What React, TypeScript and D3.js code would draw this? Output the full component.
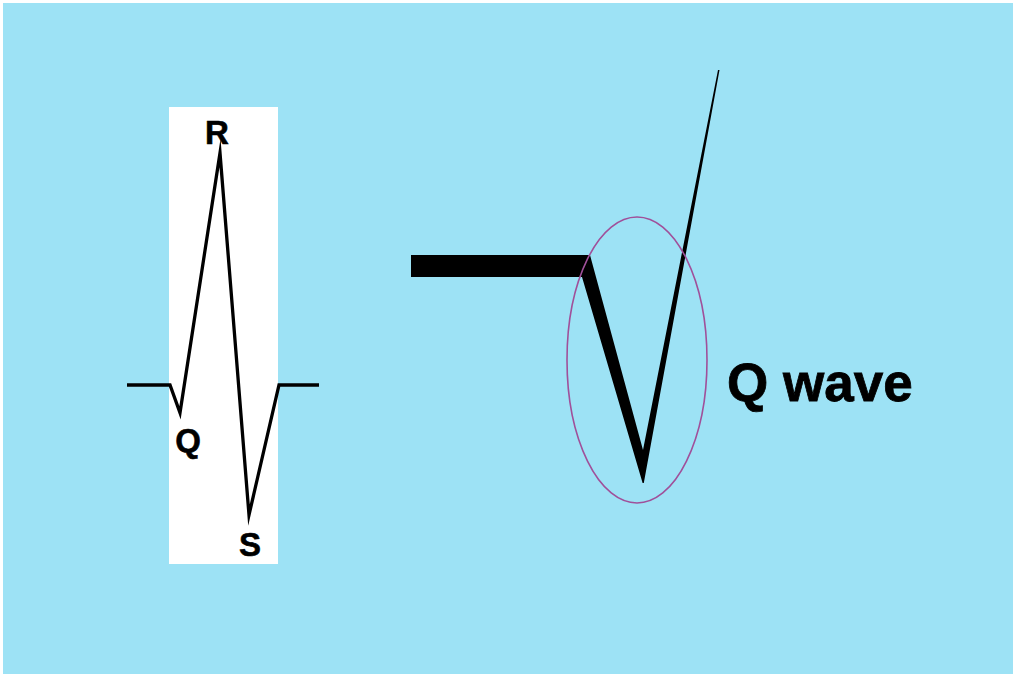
import React from "react";
import * as d3 from "d3";

// Left panel: schematic QRS complex (time units, amplitude relative to R peak)
const ecgTime = [0, 43, 53, 93, 122, 152, 192];
const ecgAmp = [0, 0, -0.12, 1, -0.56, 0, 0];
const waveLabels = ["R", "Q", "S"];
const labelTime = [90, 61, 123];
const labelAmp = [1.04, -0.29, -0.735];

// Right panel: enlarged Q wave outline (drawing units)
const qOutlineX = [411, 590, 643, 718, 719.5, 643.8, 642.6, 582, 411];
const qOutlineY = [255, 255, 450, 70, 70, 483, 483, 277, 277];
const circleCenter = [637, 360];
const circleRadii = [70, 143];
const qTitle = "Q wave";

const W = 1013;
const H = 674;

export default function App() {
  const x = d3.scaleLinear().domain([0, 192]).range([127, 319]);
  const y = d3.scaleLinear().domain([0, 1]).range([385, 153]);
  const ecgLine = d3
    .line<number>()
    .x((_, i) => x(ecgTime[i]))
    .y((d) => y(d));

  const px = d3.scaleLinear().domain([0, 1]).range([0, 1]);
  const outline = d3
    .line<number>()
    .x((_, i) => px(qOutlineX[i]))
    .y((d) => px(d))
    .curve(d3.curveLinearClosed);

  return (
    <svg
      width={W}
      height={H}
      style={{ position: "fixed", left: 0, top: 0, display: "block" }}
      fontFamily="'Liberation Sans', Arial, Helvetica, sans-serif"
    >
      <rect x={0} y={0} width={W + 20} height={H + 20} fill="#ffffff" />
      <rect x={3} y={3} width={W + 20} height={H + 20} fill="#9de2f5" />
      {/* left panel */}
      <rect x={169} y={107} width={109} height={457} fill="#ffffff" />
      <path
        d={ecgLine(ecgAmp) || ""}
        fill="none"
        stroke="#000"
        strokeWidth={3.3}
        strokeLinejoin="miter"
        strokeMiterlimit={20}
      />
      {waveLabels.map((t, i) => (
        <text
          key={t}
          x={x(labelTime[i])}
          y={y(labelAmp[i])}
          fontSize={33}
          fontWeight="bold"
          textAnchor="middle"
          fill="#000"
          stroke="#000"
          strokeWidth={0.6}
        >
          {t}
        </text>
      ))}
      {/* right panel */}
      <path d={outline(qOutlineY) || ""} fill="#000" />
      <ellipse
        cx={px(circleCenter[0])}
        cy={px(circleCenter[1])}
        rx={circleRadii[0]}
        ry={circleRadii[1]}
        fill="none"
        stroke="#a0509a"
        strokeWidth={1.6}
      />
      <text
        x={727}
        y={401}
        fontSize={53}
        fontWeight="bold"
        fill="#000"
        stroke="#000"
        strokeWidth={0.8}
      >
        {qTitle}
      </text>
    </svg>
  );
}
